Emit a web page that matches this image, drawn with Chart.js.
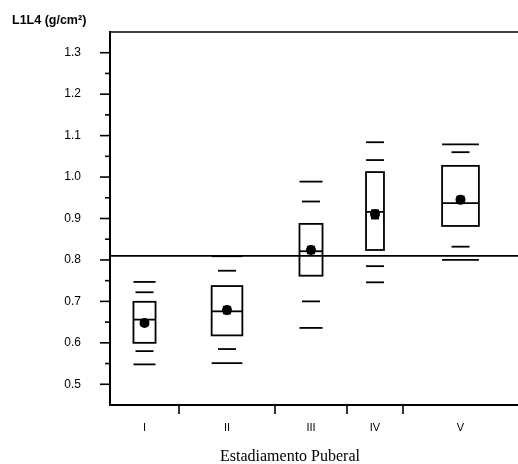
<!DOCTYPE html>
<html>
<head>
<meta charset="utf-8">
<script src="https://cdn.jsdelivr.net/npm/chart.js@4"></script>
<style>
  html, body { margin: 0; padding: 0; background: #fff; }
  #wrap { width: 518px; height: 464px; }
</style>
</head>
<body>
<div id="wrap"><canvas id="chart" width="518" height="464"></canvas></div>
<script>
// Puberal stages and the relative width each one takes on the x axis
const stages = ["I", "II", "III", "IV", "V"];
const stageWidths = [69, 96, 72, 56, 115];

// L1L4 bone density per stage (g/cm2)
const p95 = [0.747, 0.809, 0.989, 1.084, 1.079];
const p90 = [0.722, 0.774, 0.941, 1.041, 1.060];
const q3 = [0.699, 0.737, 0.887, 1.012, 1.027];
const median = [0.656, 0.676, 0.821, 0.916, 0.937];
const mean = [0.648, 0.679, 0.824, 0.910, 0.945];
const meanErr = [0.006, 0.008, 0.008, 0.010, 0.008];
const q1 = [0.600, 0.618, 0.762, 0.824, 0.882];
const p10 = [0.580, 0.585, 0.700, 0.785, 0.832];
const p5 = [0.548, 0.551, 0.636, 0.746, 0.800];

const referenceLevel = 0.81;

const yTicks = [0.5, 0.6, 0.7, 0.8, 0.9, 1.0, 1.1, 1.2, 1.3];
const yMinorTicks = [0.55, 0.65, 0.75, 0.85, 0.95, 1.05, 1.15, 1.25];

const yTitle = "L1L4 (g/cm²)";
const xTitle = "Estadiamento Puberal";

// derived layout of the categories along the linear x axis
const totalWidth = stageWidths.reduce((a, b) => a + b, 0);
const bounds = [];
const centers = [];
let acc = 0;
stageWidths.forEach((w) => {
  centers.push(acc + w / 2);
  acc += w;
  bounds.push(acc);
});
bounds.pop();

const boxFraction = 0.32;
const boxHalf = (i) => (stageWidths[i] * boxFraction) / 2;

function halfPx(chart, i) {
  const x = chart.scales.x;
  return x.getPixelForValue(centers[i] + boxHalf(i)) - x.getPixelForValue(centers[i]);
}

function line(ctx, x1, y1, x2, y2) {
  ctx.beginPath();
  ctx.moveTo(x1, y1);
  ctx.lineTo(x2, y2);
  ctx.stroke();
}

/**
 * Draws boxes, medians, error bars, frame ticks and titles
 */
const boxPlotPlugin = {
  id: "boxPlot",
  beforeDatasetsDraw(chart) {
    const { ctx } = chart;
    const { x, y } = chart.scales;
    ctx.save();
    ctx.strokeStyle = "#000";
    ctx.lineWidth = 1.8;
    stages.forEach((s, i) => {
      const left = x.getPixelForValue(centers[i] - boxHalf(i));
      const right = x.getPixelForValue(centers[i] + boxHalf(i));
      const top = y.getPixelForValue(q3[i]);
      const bottom = y.getPixelForValue(q1[i]);
      ctx.strokeRect(left, top, right - left, bottom - top);
      const my = y.getPixelForValue(median[i]);
      line(ctx, left, my, right, my);

      // error bar around mean
      const cx = x.getPixelForValue(centers[i]);
      const eTop = y.getPixelForValue(mean[i] + meanErr[i]);
      const eBot = y.getPixelForValue(mean[i] - meanErr[i]);
      line(ctx, cx, eTop, cx, eBot);
      line(ctx, cx - 4, eTop, cx + 4, eTop);
      line(ctx, cx - 4, eBot, cx + 4, eBot);
    });
    ctx.restore();
  },
  afterDraw(chart) {
    const { ctx, chartArea } = chart;
    const { x, y } = chart.scales;
    ctx.save();
    ctx.strokeStyle = "#000";

    // top frame line
    ctx.lineWidth = 1.5;
    line(ctx, chartArea.left, chartArea.top, chartArea.right, chartArea.top);

    // y tick marks
    ctx.lineWidth = 1.6;
    yTicks.forEach((v) => {
      const py = y.getPixelForValue(v);
      line(ctx, chartArea.left - 10, py, chartArea.left, py);
    });
    yMinorTicks.forEach((v) => {
      const py = y.getPixelForValue(v);
      line(ctx, chartArea.left - 5, py, chartArea.left, py);
    });

    // x boundary ticks between stages
    bounds.forEach((b) => {
      const px = x.getPixelForValue(b);
      line(ctx, px, chartArea.bottom, px, chartArea.bottom + 9);
    });

    // titles
    ctx.fillStyle = "#000";
    ctx.font = 'bold 12.5px "Liberation Sans", Arial, sans-serif';
    ctx.textAlign = "left";
    ctx.textBaseline = "middle";
    ctx.fillText(yTitle, 12, 21);

    ctx.font = '16px "Liberation Serif", "Times New Roman", serif';
    ctx.textAlign = "center";
    ctx.textBaseline = "alphabetic";
    ctx.fillText(xTitle, 290, 461);
    ctx.restore();
  },
};

const ctx = document.getElementById("chart").getContext("2d");

const chart = new Chart(ctx, {
  type: "scatter",
  data: {
    datasets: [
      {
        type: "line",
        data: [
          { x: 0, y: referenceLevel },
          { x: totalWidth, y: referenceLevel },
        ],
        borderColor: "#000",
        borderWidth: 1.8,
        pointRadius: 0,
        fill: false,
      },
      {
        // outer whisker dashes (5th / 95th)
        data: stages.flatMap((s, i) => [
          { x: centers[i], y: p95[i], s: i },
          { x: centers[i], y: p5[i], s: i },
        ]),
        pointStyle: "line",
        pointRadius: (c) => halfPx(c.chart, c.raw.s),
        borderColor: "#000",
        borderWidth: 1.8,
      },
      {
        // inner whisker dashes (10th / 90th)
        data: stages.flatMap((s, i) => [
          { x: centers[i], y: p90[i], s: i },
          { x: centers[i], y: p10[i], s: i },
        ]),
        pointStyle: "line",
        pointRadius: (c) => Math.min(9, halfPx(c.chart, c.raw.s)),
        borderColor: "#000",
        borderWidth: 1.8,
      },
      {
        // means
        data: stages.map((s, i) => ({ x: centers[i], y: mean[i] })),
        pointStyle: "circle",
        pointRadius: 5,
        backgroundColor: "#000",
        borderColor: "#000",
        borderWidth: 0,
      },
    ],
  },
  options: {
    responsive: false,
    animation: false,
    events: [],
    layout: { autoPadding: false, padding: { top: 32, right: 0, left: 0, bottom: 0 } },
    plugins: {
      legend: { display: false },
      tooltip: { enabled: false },
    },
    scales: {
      x: {
        type: "linear",
        min: 0,
        max: totalWidth,
        grid: { display: false, drawTicks: false },
        border: { display: true, color: "#000", width: 2 },
        afterBuildTicks: (s) => {
          s.ticks = centers.map((v) => ({ value: v }));
        },
        afterFit: (s) => {
          s.height = 59;
        },
        ticks: {
          autoSkip: false,
          maxRotation: 0,
          padding: 16,
          color: "#000",
          font: { family: '"Liberation Sans", Arial, sans-serif', size: 11 },
          callback: (v, idx) => stages[idx],
        },
      },
      y: {
        type: "linear",
        min: 0.45,
        max: 1.35,
        // tick marks are drawn by the plugin; tickLength only spaces the labels
        grid: { display: false, drawTicks: true, tickLength: 26 },
        border: { display: true, color: "#000", width: 2 },
        afterBuildTicks: (s) => {
          s.ticks = yTicks.map((v) => ({ value: v }));
        },
        afterFit: (s) => {
          s.width = 110;
        },
        ticks: {
          autoSkip: false,
          padding: 3,
          color: "#000",
          font: { family: '"Liberation Sans", Arial, sans-serif', size: 12 },
          callback: (v) => v.toFixed(1),
        },
      },
    },
  },
  plugins: [boxPlotPlugin],
});
</script>
</body>
</html>
